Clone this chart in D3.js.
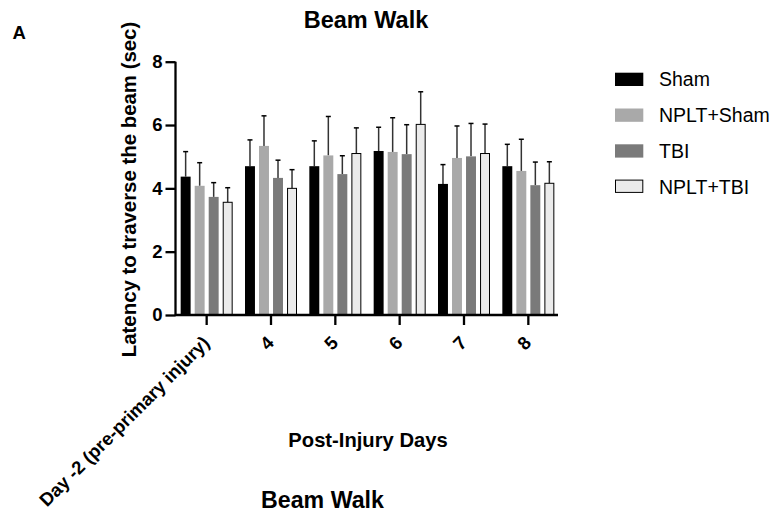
<!DOCTYPE html>
<html>
<head>
<meta charset="utf-8">
<script src="https://cdn.jsdelivr.net/npm/d3@7/dist/d3.min.js"></script>
<style>
  body { margin: 0; background: #fff; }
  svg text { font-family: "Liberation Sans", Arial, Helvetica, sans-serif; }
</style>
</head>
<body>
<div id="chart"></div>
<script>
// Days on the x axis
const days = ['Day -2 (pre-primary injury)', '4', '5', '6', '7', '8'];
const groups = ['Sham', 'NPLT+Sham', 'TBI', 'NPLT+TBI'];

// Mean latency (sec) per group, one value per day
const sham      = [4.37, 4.70, 4.70, 5.18, 4.14, 4.70];
const npltSham  = [4.08, 5.34, 5.04, 5.15, 4.96, 4.55];
const tbi       = [3.73, 4.33, 4.45, 5.08, 5.01, 4.10];
const npltTbi   = [3.56, 4.00, 5.10, 6.02, 5.10, 4.16];

// Upper end of the error bar (mean + SD)
const shamErr     = [5.16, 5.53, 5.50, 5.93, 4.75, 5.39];
const npltShamErr = [4.81, 6.29, 6.27, 6.23, 5.97, 5.55];
const tbiErr      = [4.18, 4.89, 5.03, 6.01, 6.05, 4.83];
const npltTbiErr  = [4.02, 4.59, 5.91, 7.05, 6.03, 4.84];

const yTicks = [0, 2, 4, 6, 8];

const means = [sham, npltSham, tbi, npltTbi];
const errs = [shamErr, npltShamErr, tbiErr, npltTbiErr];
const fills = ['#000000', '#a9a9a9', '#7a7a7a', '#ebebeb'];
const strokes = ['none', 'none', 'none', '#000'];

const width = 776, height = 515;
const svg = d3.select('#chart').append('svg')
    .attr('width', width)
    .attr('height', height);

const x0 = d3.scaleBand().domain(days).range([174.5, 560.5]).paddingInner(0).paddingOuter(0);
const x1 = d3.scaleBand().domain(groups).range([-26, 26]).paddingInner(0.29).paddingOuter(0);
const y = d3.scaleLinear().domain([0, 8]).range([315, 61.7]);

// Bars
days.forEach((day, i) => {
    const cx = x0(day) + x0.bandwidth() / 2;
    groups.forEach((grp, j) => {
        const v = means[j][i];
        const e = errs[j][i];
        const bx = cx + x1(grp);
        const bw = x1.bandwidth();
        // error bar (upper only)
        svg.append('line')
            .attr('x1', bx + bw / 2).attr('x2', bx + bw / 2)
            .attr('y1', y(v)).attr('y2', y(e))
            .attr('stroke', '#333').attr('stroke-width', 1.5);
        svg.append('line')
            .attr('x1', bx + bw / 2 - 2.5).attr('x2', bx + bw / 2 + 2.5)
            .attr('y1', y(e)).attr('y2', y(e))
            .attr('stroke', '#000').attr('stroke-width', 1.5);
        svg.append('rect')
            .attr('x', j === 3 ? bx + 0.5 : bx)
            .attr('y', y(v))
            .attr('width', j === 3 ? bw - 1 : bw)
            .attr('height', y(0) - y(v))
            .attr('fill', fills[j])
            .attr('stroke', strokes[j])
            .attr('stroke-width', 1);
    });
});

// Y axis
const yAxis = svg.append('g')
    .attr('transform', 'translate(175.5,0)')
    .call(d3.axisLeft(y).tickValues(yTicks).tickSize(10).tickPadding(3).tickFormat(d3.format('d')));
yAxis.select('.domain').attr('stroke-width', 2.3).attr('d', `M0,${y(8)}V${y(0) + 1}`);
yAxis.selectAll('.tick line').attr('stroke-width', 2.3);
yAxis.selectAll('.tick text')
    .style('font-size', '18.5px').style('font-weight', 'bold').attr('fill', '#000');

// X axis
const xAxis = svg.append('g')
    .attr('transform', 'translate(0,315)')
    .call(d3.axisBottom(x0).tickSize(10).tickSizeOuter(0));
xAxis.select('.domain').attr('stroke-width', 2.3).attr('d', 'M175,0H558');
xAxis.selectAll('.tick line').attr('stroke-width', 2.3);
xAxis.selectAll('.tick text')
    .style('font-size', '18.5px').style('font-weight', 'bold').attr('fill', '#000')
    .attr('text-anchor', 'end')
    .attr('dy', null)
    .attr('y', 0)
    .attr('transform', 'translate(4,29) rotate(-45)');

// Titles
svg.append('text').attr('x', 366).attr('y', 28)
    .attr('text-anchor', 'middle').style('font-size', '23.5px').style('font-weight', 'bold')
    .text('Beam Walk');
svg.append('text').attr('x', 12.5).attr('y', 39)
    .style('font-size', '18.5px').style('font-weight', 'bold')
    .text('A');
svg.append('text')
    .attr('transform', `translate(135.5,${(22 + 357) / 2}) rotate(-90)`)
    .attr('text-anchor', 'middle').style('font-size', '20.4px').style('font-weight', 'bold')
    .text('Latency to traverse the beam (sec)');
svg.append('text').attr('x', 368).attr('y', 446.5)
    .attr('text-anchor', 'middle').style('font-size', '20.2px').style('font-weight', 'bold')
    .text('Post-Injury Days');
svg.append('text').attr('x', 322.5).attr('y', 508)
    .attr('text-anchor', 'middle').style('font-size', '23.2px').style('font-weight', 'bold')
    .text('Beam Walk');

// Legend
const legend = svg.append('g');
groups.forEach((grp, j) => {
    const ly = 79.3 + j * 35.8;
    legend.append('rect')
        .attr('x', j === 3 ? 615.5 : 615).attr('y', ly - 6.6)
        .attr('width', j === 3 ? 27.3 : 28.3).attr('height', j === 3 ? 12.3 : 13.3)
        .attr('fill', fills[j]).attr('stroke', strokes[j]).attr('stroke-width', 1);
    legend.append('text')
        .attr('x', 659).attr('y', ly + 6.8)
        .style('font-size', '19.5px')
        .text(grp);
});
</script>
</body>
</html>
